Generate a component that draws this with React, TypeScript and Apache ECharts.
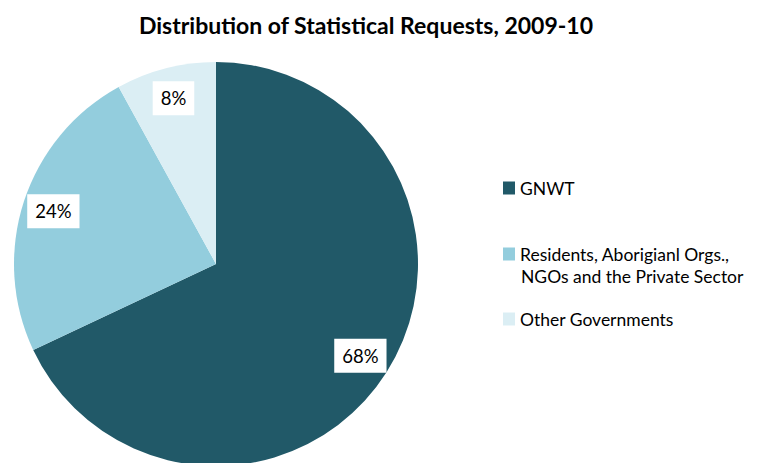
import React, { useEffect, useRef } from "react";
import * as echarts from "echarts";

const titleText = "Distribution of Statistical Requests, 2009-10";
const categories = ["GNWT", "Residents, Aborigianl Orgs.,", "Other Governments"];
const secondLine = "NGOs and the Private Sector";
const values = [68, 24, 8];
const colors = ["#215968", "#93CDDD", "#DBEEF4"];

export default function App() {
  const ref = useRef<HTMLDivElement>(null);
  useEffect(() => {
    const chart = echarts.init(ref.current!, null, { renderer: "svg" });
    const data = categories.map((c, i) => ({ name: c, value: values[i], itemStyle: { color: colors[i] } }));
    const font = "Lato";
    const legendTops = [166, 232, 297];
    chart.setOption({
      animation: false,
      backgroundColor: "#ffffff",
      title: {
        text: titleText,
        left: 353,
        top: 0,
        textAlign: "center",
        textStyle: { fontFamily: font, fontWeight: "bold", fontSize: 23, color: "#000" },
      },
      legend: categories.map((c, i) => ({
        data: [c],
        left: 490,
        top: legendTops[i],
        orient: "vertical",
        itemWidth: 12,
        itemHeight: 13,
        itemGap: 6,
        icon: "rect",
        selectedMode: false,
        textStyle: { fontFamily: font, fontSize: 17.5, color: "#000" },
      })),
      graphic: [
        {
          type: "text",
          left: 513,
          top: 259,
          style: { text: secondLine, font: `17.5px ${font}`, fill: "#000" },
        },
      ],
      series: [
        {
          type: "pie",
          center: [208, 256],
          radius: [0, 202],
          startAngle: 90,
          clockwise: true,
          data,
          label: { show: false },
          labelLine: { show: false },
          silent: true,
        },
        {
          type: "pie",
          center: [208, 256],
          radius: [134, 202],
          startAngle: 90,
          clockwise: true,
          data: categories.map((c, i) => ({ name: c + " ", value: values[i] })),
          itemStyle: { color: "rgba(0,0,0,0)" },
          silent: true,
          label: {
            show: true,
            position: "inside",
            formatter: (p: any) => `${p.value}%`,
            fontFamily: font,
            fontSize: 18.5,
            color: "#000",
            backgroundColor: "#fff",
            padding: [8, 8, 7, 8],
          },
          labelLine: { show: false },
        },
      ],
    });
    return () => chart.dispose();
  }, []);
  return <div ref={ref} style={{ width: 748, height: 455 }} />;
}
